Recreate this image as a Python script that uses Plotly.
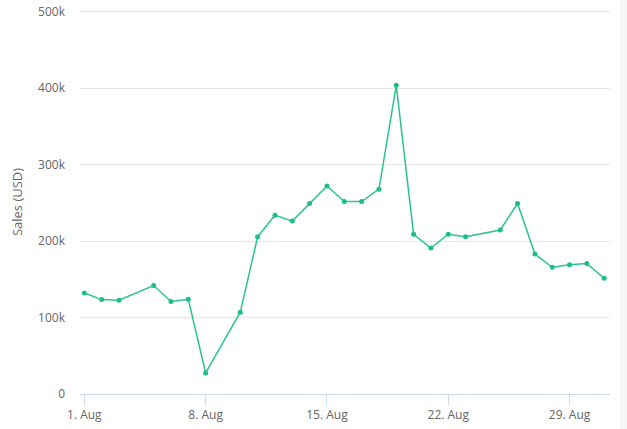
import plotly.graph_objects as go

dates = ["2023-08-01", "2023-08-02", "2023-08-03", "2023-08-05", "2023-08-06", "2023-08-07",
         "2023-08-08", "2023-08-10", "2023-08-11", "2023-08-12", "2023-08-13", "2023-08-14",
         "2023-08-15", "2023-08-16", "2023-08-17", "2023-08-18", "2023-08-19", "2023-08-20",
         "2023-08-21", "2023-08-22", "2023-08-23", "2023-08-25", "2023-08-26", "2023-08-27",
         "2023-08-28", "2023-08-29", "2023-08-30", "2023-08-31"]
sales = [132000, 123400, 122500, 141800, 121000, 123800,
         27500, 107000, 205500, 233800, 226000, 249000,
         272000, 251600, 251600, 267800, 403500, 208800,
         190800, 208800, 205700, 214400, 249000, 183000,
         165600, 169000, 170500, 151300]

x_tickvals = ["2023-08-01", "2023-08-08", "2023-08-15", "2023-08-22", "2023-08-29"]
x_ticktext = ["1. Aug", "8. Aug", "15. Aug", "22. Aug", "29. Aug"]
y_tickvals = [0, 100000, 200000, 300000, 400000, 500000]
y_ticktext = ["0", "100k", "200k", "300k", "400k", "500k"]

fig = go.Figure()
fig.add_trace(go.Scatter(
    x=dates, y=sales, mode="lines+markers",
    line=dict(color="#2bc38e", width=1.5),
    marker=dict(color="#1dbf85", size=5),
    showlegend=False,
))

fig.update_layout(
    width=627, height=429,
    margin=dict(l=80, r=17, t=9.5, b=34.7),
    paper_bgcolor="white", plot_bgcolor="white",
    font=dict(family="Open Sans, sans-serif", size=12, color="#666666"),
    xaxis=dict(
        type="date", automargin=False,
        range=["2023-07-31 18:00", "2023-08-31 08:00"],
        tickvals=x_tickvals, ticktext=x_ticktext,
        showgrid=False, zeroline=False,
        showline=True, linecolor="#ccd6eb", linewidth=1,
        ticks="outside", ticklen=10, tickcolor="#ccd6eb", tickwidth=1,
        tickfont=dict(size=12, color="#666666"),
        ticklabeloverflow="allow",
    ),
    yaxis=dict(
        range=[0, 502000], automargin=False,
        tickvals=y_tickvals, ticktext=y_ticktext,
        showgrid=True, gridcolor="#e6e6e6", gridwidth=1,
        zeroline=False, showline=False,
        ticks="", ticklabelstandoff=14,
        tickfont=dict(size=12, color="#666666"),
        ticklabeloverflow="allow",
        title=dict(text="Sales (USD)", font=dict(size=13, color="#666666"), standoff=12),
    ),
    shapes=[dict(type="rect", xref="paper", yref="paper",
                 x0=1.019, x1=1.05, y0=-0.1, y1=1.05,
                 fillcolor="#f5f5f5", line=dict(width=0), layer="below")],
)

fig.write_html("out.html", config={"displayModeBar": False},
               post_script="document.body.style.margin='0';")
